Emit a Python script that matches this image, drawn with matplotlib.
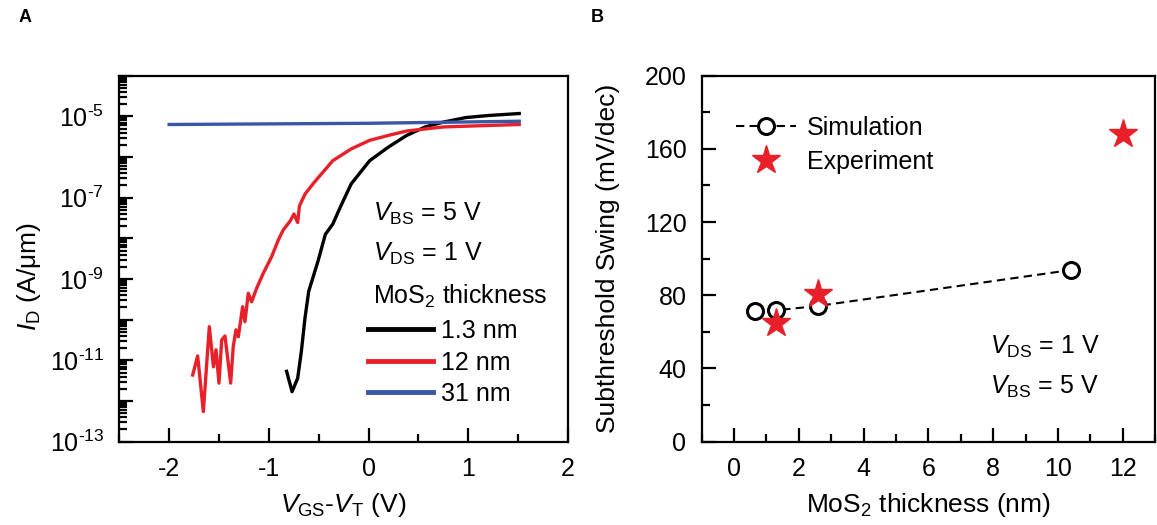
import numpy as np
import matplotlib
matplotlib.use("Agg")
import matplotlib.pyplot as plt
from matplotlib.ticker import LogLocator, MultipleLocator, NullFormatter

plt.rcParams['font.family'] = ['Liberation Sans', 'DejaVu Sans']
plt.rcParams['mathtext.fontset'] = 'custom'
plt.rcParams['mathtext.rm'] = 'Liberation Sans'
plt.rcParams['mathtext.it'] = 'Liberation Sans:italic'
plt.rcParams['mathtext.bf'] = 'Liberation Sans:bold'

# ---- panel A data: V_GS - V_T (V) and log10(I_D / (A/um)) ----
vg_13nm = [-0.822, -0.767, -0.711, -0.674, -0.637, -0.600, -0.507, -0.433, -0.359,
           -0.285, -0.174, 0.011, 0.196, 0.381, 0.567, 0.752, 0.974, 1.196, 1.511]
logid_13nm = [-11.27, -11.77, -11.44, -10.78, -9.95, -9.30, -8.56, -7.90, -7.65,
              -7.24, -6.66, -6.09, -5.76, -5.47, -5.26, -5.14, -5.03, -4.98, -4.93]

vg_12nm = [-1.764, -1.714, -1.657, -1.597, -1.556, -1.530, -1.500, -1.473, -1.440,
           -1.383, -1.357, -1.330, -1.306, -1.263, -1.240, -1.206, -1.173, -1.123,
           -1.056, -0.972, -0.905, -0.855, -0.785, -0.748, -0.711, -0.693, -0.637,
           -0.544, -0.359, -0.174, 0.011, 0.196, 0.381, 0.752, 1.122, 1.511]
logid_12nm = [-11.36, -10.89, -12.26, -10.17, -11.16, -10.74, -11.56, -10.50, -10.40,
              -11.56, -10.66, -10.25, -10.42, -9.68, -10.05, -9.35, -9.56, -9.23,
              -8.86, -8.45, -8.04, -7.79, -7.57, -7.40, -7.61, -7.20, -6.91,
              -6.62, -6.09, -5.80, -5.59, -5.47, -5.36, -5.26, -5.23, -5.20]

vg_31nm = [-2.0, 0.0, 1.511]
logid_31nm = [-5.20, -5.17, -5.12]

# ---- panel B data: MoS2 thickness (nm) vs subthreshold swing (mV/dec) ----
sim_thick = [0.65, 1.3, 2.6, 10.4]
sim_ss = [71.5, 71.8, 74.2, 93.8]
exp_thick = [1.3, 2.6, 12.0]
exp_ss = [65.0, 80.6, 168.0]

RED = '#e8202a'
BLUE = '#3a56a5'
FS = 18   # tick labels / annotations
LFS = 19  # axis titles

fig = plt.figure(figsize=(11.57, 5.25), dpi=100)
axA = fig.add_axes([0.1031, 0.1587, 0.3878, 0.6971])
axB = fig.add_axes([0.6065, 0.1587, 0.3918, 0.6971])

for ax in (axA, axB):
    for s in ax.spines.values():
        s.set_linewidth(1.6)
    ax.tick_params(which='both', direction='in', top=False, right=False,
                   width=1.6, labelsize=FS)
    ax.tick_params(which='major', length=10)
    ax.tick_params(which='minor', length=6)
    ax.tick_params(axis='x', pad=11)
    ax.tick_params(axis='y', pad=11)

# Panel A
l1, = axA.plot(vg_13nm, 10 ** np.array(logid_13nm), color='black', lw=2.4, label='1.3 nm')
l2, = axA.plot(vg_12nm, 10 ** np.array(logid_12nm), color=RED, lw=2.4, label='12 nm')
l3, = axA.plot(vg_31nm, 10 ** np.array(logid_31nm), color=BLUE, lw=2.4, label='31 nm')
axA.set_yscale('log')
axA.set_xlim(-2.5, 2)
axA.set_ylim(1e-13, 1e-4)
axA.set_xticks([-2, -1, 0, 1, 2])
axA.set_xticklabels(['-2', '-1', '0', '1', '2'])
axA.xaxis.set_minor_locator(MultipleLocator(0.5))
exps = list(range(-13, -3))
axA.set_yticks([10.0 ** e for e in exps])
axA.set_yticklabels([r'$\mathregular{10^{\text{-}%d}}$' % -e if e % 2 else '' for e in exps])
axA.yaxis.set_minor_locator(LogLocator(base=10, subs=np.arange(2, 10), numticks=100))
axA.yaxis.set_minor_formatter(NullFormatter())
axA.set_xlabel(r'$V_{\mathrm{GS}}$-$V_{\mathrm{T}}$ (V)', fontsize=LFS)
axA.xaxis.set_label_coords(0.5, -0.135)
axA.set_ylabel(r'$I_{\mathrm{D}}$ (A/μm)', fontsize=LFS)
axA.yaxis.set_label_coords(-0.17, 0.45)

axA.text(0.565, 0.622, r'$V_{\mathrm{BS}}$ = 5 V', transform=axA.transAxes, fontsize=FS, va='center')
axA.text(0.565, 0.512, r'$V_{\mathrm{DS}}$ = 1 V', transform=axA.transAxes, fontsize=FS, va='center')
axA.text(0.565, 0.398, r'MoS$_2$ thickness', transform=axA.transAxes, fontsize=FS, va='center')
legA = axA.legend(handles=[l1, l2, l3], loc='upper left', bbox_to_anchor=(0.555, 0.335),
                  frameon=False, fontsize=FS, handlelength=2.6, handletextpad=0.3,
                  labelspacing=0.3, borderpad=0, borderaxespad=0)
for h in legA.get_lines():
    h.set_linewidth(3.5)

# Panel B
axB.plot(sim_thick, sim_ss, ls='--', color='black', lw=1.5, marker='o', ms=11.5,
         mfc='white', mec='black', mew=2.2, label='Simulation', dashes=(4, 2.5))
axB.plot(exp_thick, exp_ss, ls='none', marker='*', ms=21, color=RED, mec=RED,
         label='Experiment')
axB.set_xlim(-1, 13)
axB.set_ylim(0, 200)
axB.set_xticks(range(0, 13, 2))
axB.xaxis.set_minor_locator(MultipleLocator(1))
axB.set_yticks(range(0, 201, 40))
axB.yaxis.set_minor_locator(MultipleLocator(20))
axB.set_xlabel(r'MoS$_2$ thickness (nm)', fontsize=LFS)
axB.xaxis.set_label_coords(0.5, -0.135)
axB.set_ylabel('Subthreshold Swing (mV/dec)', fontsize=LFS)
axB.yaxis.set_label_coords(-0.18, 0.5)
axB.legend(loc='upper left', bbox_to_anchor=(0.075, 0.89), frameon=False, fontsize=FS,
           handlelength=2.4, handletextpad=0.45, labelspacing=0.4, numpoints=1,
           borderpad=0, borderaxespad=0)
axB.text(0.636, 0.26, r'$V_{\mathrm{DS}}$ = 1 V', transform=axB.transAxes, fontsize=FS, va='center')
axB.text(0.636, 0.15, r'$V_{\mathrm{BS}}$ = 5 V', transform=axB.transAxes, fontsize=FS, va='center')

fig.text(25 / 1157, 1 - 18 / 525, 'A', fontsize=13, fontweight='bold', va='center', ha='center')
fig.text(597 / 1157, 1 - 18 / 525, 'B', fontsize=13, fontweight='bold', va='center', ha='center')

fig.savefig('out.png', dpi=100)
